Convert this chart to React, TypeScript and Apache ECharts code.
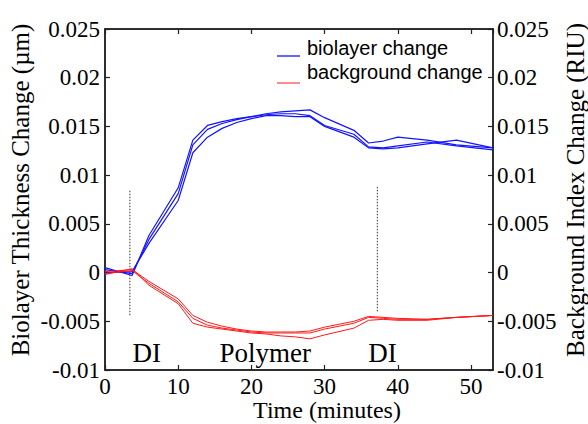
import React, { useEffect, useRef } from "react";
import * as echarts from "echarts";

const times = [0, 3.7, 6, 10, 12, 14, 16, 18, 20, 22, 24, 26, 28, 30, 34, 36, 38, 40, 44, 48, 53];

const biolayerA = [0.0005, -0.0003, 0.0038, 0.0087, 0.0136, 0.0151, 0.0155, 0.0158, 0.016, 0.0162, 0.0163, 0.0163, 0.0161, 0.0151, 0.0142, 0.0129, 0.0128, 0.013, 0.0134, 0.013, 0.0126];
const biolayerB = [0.0003, -0.0001, 0.0034, 0.0081, 0.0131, 0.0147, 0.0153, 0.0157, 0.016, 0.0163, 0.0165, 0.0166, 0.0167, 0.0159, 0.0146, 0.0133, 0.0135, 0.0139, 0.0136, 0.0131, 0.0128];
const biolayerC = [0.0, 0.0001, 0.003, 0.0074, 0.0123, 0.0139, 0.0148, 0.0154, 0.0158, 0.0161, 0.0161, 0.016, 0.016, 0.015, 0.0139, 0.0128, 0.0127, 0.0128, 0.0132, 0.0136, 0.0128];

const backgroundA = [0.0001, 0.0003, -0.0009, -0.0027, -0.0044, -0.0051, -0.0055, -0.0058, -0.006, -0.0061, -0.0061, -0.0061, -0.006, -0.0056, -0.005, -0.0045, -0.0046, -0.0047, -0.0048, -0.0046, -0.0044];
const backgroundB = [-0.0001, 0.0002, -0.0011, -0.003, -0.0047, -0.0054, -0.0057, -0.0059, -0.0061, -0.0062, -0.0062, -0.0062, -0.0062, -0.0058, -0.0052, -0.0046, -0.0047, -0.0048, -0.0048, -0.0046, -0.0044];
const backgroundC = [-0.0002, 0.0004, -0.0013, -0.0032, -0.0052, -0.0056, -0.0058, -0.006, -0.0062, -0.0063, -0.0065, -0.0066, -0.0068, -0.0064, -0.0057, -0.0049, -0.0048, -0.0049, -0.0049, -0.0046, -0.0044];

const markerTimes = [3.4, 37.2];
const markerTops = [0.0084, 0.0088];
const markerBottoms = [-0.0044, -0.004];

const phaseLabels = ["DI", "Polymer", "DI"];
const phaseTimes = [5.7, 21.9, 37.9];
const phaseLevel = -0.0083;

const legendLabels = ["biolayer change", "background change"];

const SERIF = "Liberation Serif";
const SANS = "Liberation Sans";
const BLUE = "#1414ff";
const RED = "#ff1a1a";

const fmt = (v: number) => String(parseFloat(v.toFixed(4)));

export default function App() {
  const ref = useRef<HTMLDivElement>(null);
  useEffect(() => {
    if (!ref.current) return;
    const chart = echarts.init(ref.current, null, { renderer: "svg" });
    const pair = (vals: number[]) => times.map((t, i) => [t, vals[i]]);
    const lineSeries = (name: string, vals: number[], color: string, width: number) => ({
      type: "line",
      name,
      data: pair(vals),
      symbol: "none",
      lineStyle: { color, width },
      itemStyle: { color },
      z: 3,
    });
    const axisLine = () => ({ show: true, onZero: false, lineStyle: { color: "#222", width: 1.5 } });
    const tick = () => ({ show: true, inside: true, length: 5, lineStyle: { color: "#222", width: 1.2 } });
    const yAxisBase = () => ({
      type: "value",
      min: -0.01,
      max: 0.025,
      interval: 0.005,
      splitLine: { show: false },
      axisLine: axisLine(),
      axisTick: tick(),
      nameLocation: "middle",
      nameRotate: 90,
      nameMoveOverlap: false,
    });
    chart.setOption({
      animation: false,
      backgroundColor: "#fff",
      grid: {
        left: 105,
        right: 95,
        top: 29,
        bottom: 54,
        containLabel: false,
        outerBoundsMode: "none",
        show: true,
        borderColor: "#222",
        borderWidth: 1.5,
        backgroundColor: "transparent",
      },
      xAxis: [
        {
          type: "value",
          min: 0,
          max: 53,
          interval: 10,
          position: "bottom",
          splitLine: { show: false },
          axisLine: axisLine(),
          axisTick: tick(),
          axisLabel: { fontFamily: SERIF, fontSize: 23, color: "#000", margin: 5, showMaxLabel: false },
          name: "Time (minutes)",
          nameLocation: "middle",
          nameGap: 28,
          nameMoveOverlap: false,
          nameTextStyle: { fontFamily: SERIF, fontSize: 24, color: "#000", padding: [0, 0, 0, 56] },
        },
        {
          type: "value",
          min: 0,
          max: 53,
          interval: 10,
          position: "top",
          splitLine: { show: false },
          axisLine: axisLine(),
          axisTick: tick(),
          axisLabel: { show: false },
        },
      ],
      yAxis: [
        {
          ...yAxisBase(),
          position: "left",
          axisLabel: { fontFamily: SERIF, fontSize: 23, color: "#000", margin: 5, formatter: fmt },
          name: "Biolayer Thickness Change (µm)",
          nameGap: 72,
          nameTextStyle: { fontFamily: SERIF, fontSize: 25, color: "#000", padding: [0, 0, 0, 19] },
        },
        {
          ...yAxisBase(),
          position: "right",
          axisLabel: { fontFamily: SERIF, fontSize: 23, color: "#000", margin: 4, formatter: fmt },
          name: "Background Index Change (RIU)",
          nameGap: 70,
          nameTextStyle: { fontFamily: SERIF, fontSize: 25, color: "#000", padding: [0, 0, 0, 19] },
        },
      ],
      graphic: [
        { type: "line", shape: { x1: 277, y1: 56, x2: 300, y2: 56 }, style: { stroke: BLUE, lineWidth: 1.3 } },
        { type: "line", shape: { x1: 277, y1: 83, x2: 300, y2: 83 }, style: { stroke: RED, lineWidth: 1 } },
        {
          type: "text",
          x: 307,
          y: 48,
          style: { text: legendLabels[0], font: `20px ${SANS}`, fill: "#000", textVerticalAlign: "middle" },
        },
        {
          type: "text",
          x: 307,
          y: 72,
          style: { text: legendLabels[1], font: `20px ${SANS}`, fill: "#000", textVerticalAlign: "middle" },
        },
      ],
      series: [
        lineSeries("biolayer change", biolayerA, BLUE, 1.2),
        lineSeries("biolayer change", biolayerB, BLUE, 1.2),
        lineSeries("biolayer change", biolayerC, BLUE, 1.2),
        lineSeries("background change", backgroundA, RED, 1),
        lineSeries("background change", backgroundB, RED, 1),
        lineSeries("background change", backgroundC, RED, 1),
        ...markerTimes.map((t, i) => ({
          type: "line",
          name: "marker" + i,
          data: [
            [t, markerTops[i]],
            [t, markerBottoms[i]],
          ],
          symbol: "none",
          lineStyle: { color: "#333", width: 1, type: [1.5, 1.5] },
          z: 2,
        })),
        {
          type: "scatter",
          name: "phases",
          symbolSize: 0,
          itemStyle: { color: "#000", opacity: 1 },
          data: phaseLabels.map((p, i) => ({ name: p, value: [phaseTimes[i], phaseLevel] })),
          label: {
            show: true,
            position: "inside",
            formatter: (p: any) => p.name,
            fontFamily: SERIF,
            fontSize: 27,
            color: "#000",
            textBorderWidth: 0,
            textBorderColor: "transparent",
            opacity: 1,
          },
          z: 4,
        },
      ],
    });
    return () => chart.dispose();
  }, []);
  return <div ref={ref} style={{ position: "fixed", left: 0, top: 0, width: 588, height: 424 }} />;
}
